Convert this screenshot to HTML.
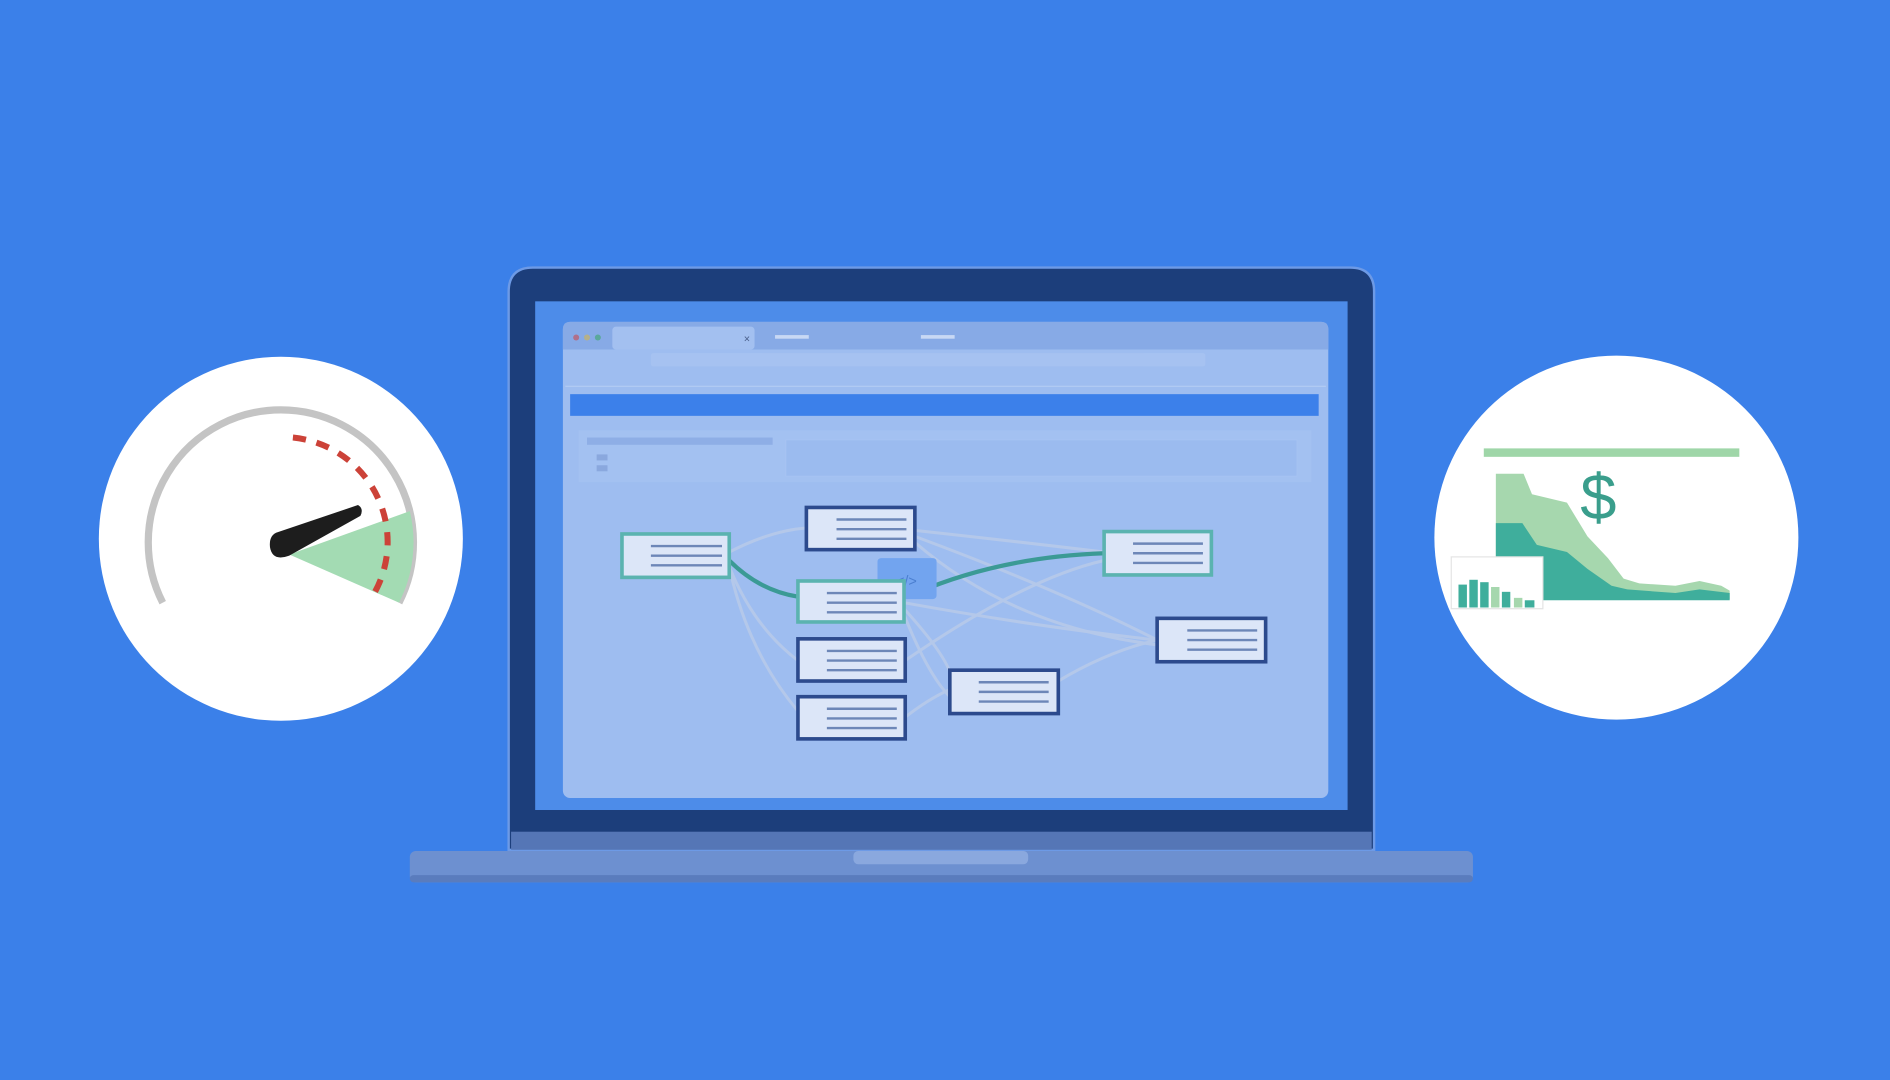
<!DOCTYPE html>
<html><head><meta charset="utf-8"><style>html,body{margin:0;padding:0;background:#3b80e9;}svg{display:block}</style></head>
<body>
<svg width="1890" height="1080" viewBox="0 0 1568 896" xmlns="http://www.w3.org/2000/svg" font-family="Liberation Sans, sans-serif">
<rect width="1568" height="896" fill="#3b80e9"/>
<!-- left circle -->
<circle cx="233" cy="447" r="151" fill="#fff"/>
<path d="M 135 500 A 110 110 0 1 1 331 500" fill="none" stroke="#c4c4c4" stroke-width="6"/>
<path d="M 240 460 L 340 424 A 110 110 0 0 1 331 500 Z" fill="#a3dbb3"/>
<path d="M 243 363 A 87 87 0 0 1 310 493" fill="none" stroke="#cc4238" stroke-width="5" stroke-dasharray="11 9"/>
<path d="M 229 442 L 297 419 Q 302 422 299 428 L 240 461 Q 226 466 224 454 Q 223 445 229 442 Z" fill="#1d1d1d"/>
<!-- right circle -->
<circle cx="1341" cy="446" r="151" fill="#fff"/>
<rect x="1231" y="372" width="212" height="7" fill="#9fd6a8"/>
<path d="M1241 393 L1264 393 L1271 410 L1300 417 L1317 445 L1334 463 L1347 480 L1360 484 L1390 486 L1410 482 L1428 486 L1435 490 L1435 497 L1241 497 Z" fill="#a6d7ae"/>
<path d="M1241 434 L1263 434 L1275 452 L1300 458 L1317 472 L1337 486 L1350 489 L1390 492 L1410 489 L1435 492 L1435 498 L1241 498 Z" fill="#3fae9c"/>
<rect x="1204" y="462" width="76" height="43" fill="#fff" stroke="#e4e4e4" stroke-width="1"/>
<g fill="#3fae9c">
<rect x="1210" y="485" width="7" height="19"/><rect x="1219" y="481" width="7" height="23"/><rect x="1228" y="483" width="7" height="21"/>
<rect x="1237" y="487" width="7" height="17" fill="#a6d7ae"/><rect x="1246" y="491" width="7" height="13"/><rect x="1256" y="496" width="7" height="8" fill="#a6d7ae"/><rect x="1265" y="498" width="8" height="6"/>
</g>
<text x="1326" y="431" font-size="54" fill="#3a9e8c" text-anchor="middle">$</text>
<!-- laptop -->
<rect x="340" y="706" width="882" height="26" rx="5" fill="#6d90d0"/>
<rect x="340" y="726" width="882" height="6" rx="3" fill="#5a7cbd"/>
<rect x="708" y="706" width="145" height="11" rx="4" fill="#8aa8de"/>
<path d="M 442 222 L 1120 222 Q 1140 222 1140 242 L 1140 705 L 422 705 L 422 242 Q 422 222 442 222 Z" fill="#1c3e7b" stroke="#6d9ae6" stroke-width="2"/>
<rect x="424" y="690" width="714" height="15" fill="#5576b6"/>
<rect x="444" y="250" width="674" height="422" fill="#4d8ce9"/>
<!-- browser -->
<rect x="467" y="267" width="635" height="395" rx="6" fill="#9ebdf0"/>
<path d="M467 290 L467 273 Q467 267 473 267 L1096 267 Q1102 267 1102 273 L1102 290 Z" fill="#87aae6"/>
<rect x="508" y="271" width="118" height="19" rx="3" fill="#a3c0f0"/>
<circle cx="478" cy="280" r="2.5" fill="#b0708a"/><circle cx="487" cy="280" r="2.5" fill="#b5b08a"/><circle cx="496" cy="280" r="2.5" fill="#5aa89c"/>
<text x="617" y="284" font-size="9" fill="#4a5f8a">×</text>
<rect x="643" y="278" width="28" height="3" fill="#c8d8f4"/><rect x="764" y="278" width="28" height="3" fill="#c8d8f4"/>
<rect x="540" y="293" width="460" height="11" rx="2" fill="#a6c2f1"/>
<rect x="469" y="320" width="631" height="1" fill="#b2cbf3"/>
<rect x="473" y="327" width="621" height="18" fill="#3c80ea"/>
<rect x="480" y="357" width="608" height="43" fill="#a3c1f1"/>
<rect x="487" y="363" width="154" height="6" fill="#8eaee6"/>
<rect x="495" y="377" width="9" height="5" fill="#8aa8de"/><rect x="495" y="386" width="9" height="5" fill="#8aa8de"/>
<rect x="652" y="365" width="424" height="30" fill="#9bbbef" stroke="#a8c4f2" stroke-width="0.6"/>
<!-- connectors -->
<g fill="none" stroke="#b4c8ea" stroke-width="2.5">
<path d="M605 458 Q640 440 669 438"/><path d="M605 470 Q620 540 662 590"/><path d="M605 470 Q625 520 662 548"/>
<path d="M759 440 Q850 450 916 458"/><path d="M759 445 Q880 490 960 531"/><path d="M750 500 Q860 520 960 531"/>
<path d="M750 505 Q800 560 788 574"/><path d="M751 548 Q850 480 916 465"/><path d="M878 565 Q920 540 960 531"/>
<path d="M750 510 Q770 560 788 578"/><path d="M751 595 Q770 580 788 572"/><path d="M759 450 Q840 520 960 535"/>
</g>
<g fill="none" stroke="#3b9a95" stroke-width="3.5">
<path d="M605 465 Q630 490 662 495"/><path d="M760 492 Q830 462 916 459"/>
</g>
<rect x="728" y="463" width="49" height="34" rx="3" fill="#72a4ef"/>
<text x="752" y="486" font-size="12" fill="#4b7fd0" text-anchor="middle">&lt;/&gt;</text>
<!-- nodes -->
<g stroke-width="3" fill="#dce6f8">
<rect x="516" y="443" width="89" height="36" stroke="#5bb3b0"/>
<rect x="669" y="421" width="90" height="35" stroke="#2c4a8d"/>
<rect x="662" y="482" width="88" height="34" stroke="#5bb3b0"/>
<rect x="662" y="530" width="89" height="35" stroke="#2c4a8d"/>
<rect x="662" y="578" width="89" height="35" stroke="#2c4a8d"/>
<rect x="788" y="556" width="90" height="36" stroke="#2c4a8d"/>
<rect x="916" y="441" width="89" height="36" stroke="#5bb3b0"/>
<rect x="960" y="513" width="90" height="36" stroke="#2c4a8d"/>
</g>
<g stroke="#6d87b8" stroke-width="2">
<path d="M540 453h59M540 461h59M540 469h59"/>
<path d="M694 431h58M694 439h58M694 447h58"/>
<path d="M686 492h58M686 500h58M686 508h58"/>
<path d="M686 540h58M686 548h58M686 556h58"/>
<path d="M686 588h58M686 596h58M686 604h58"/>
<path d="M812 566h58M812 574h58M812 582h58"/>
<path d="M940 451h58M940 459h58M940 467h58"/>
<path d="M985 523h58M985 531h58M985 539h58"/>
</g>
</svg>
</body></html>
